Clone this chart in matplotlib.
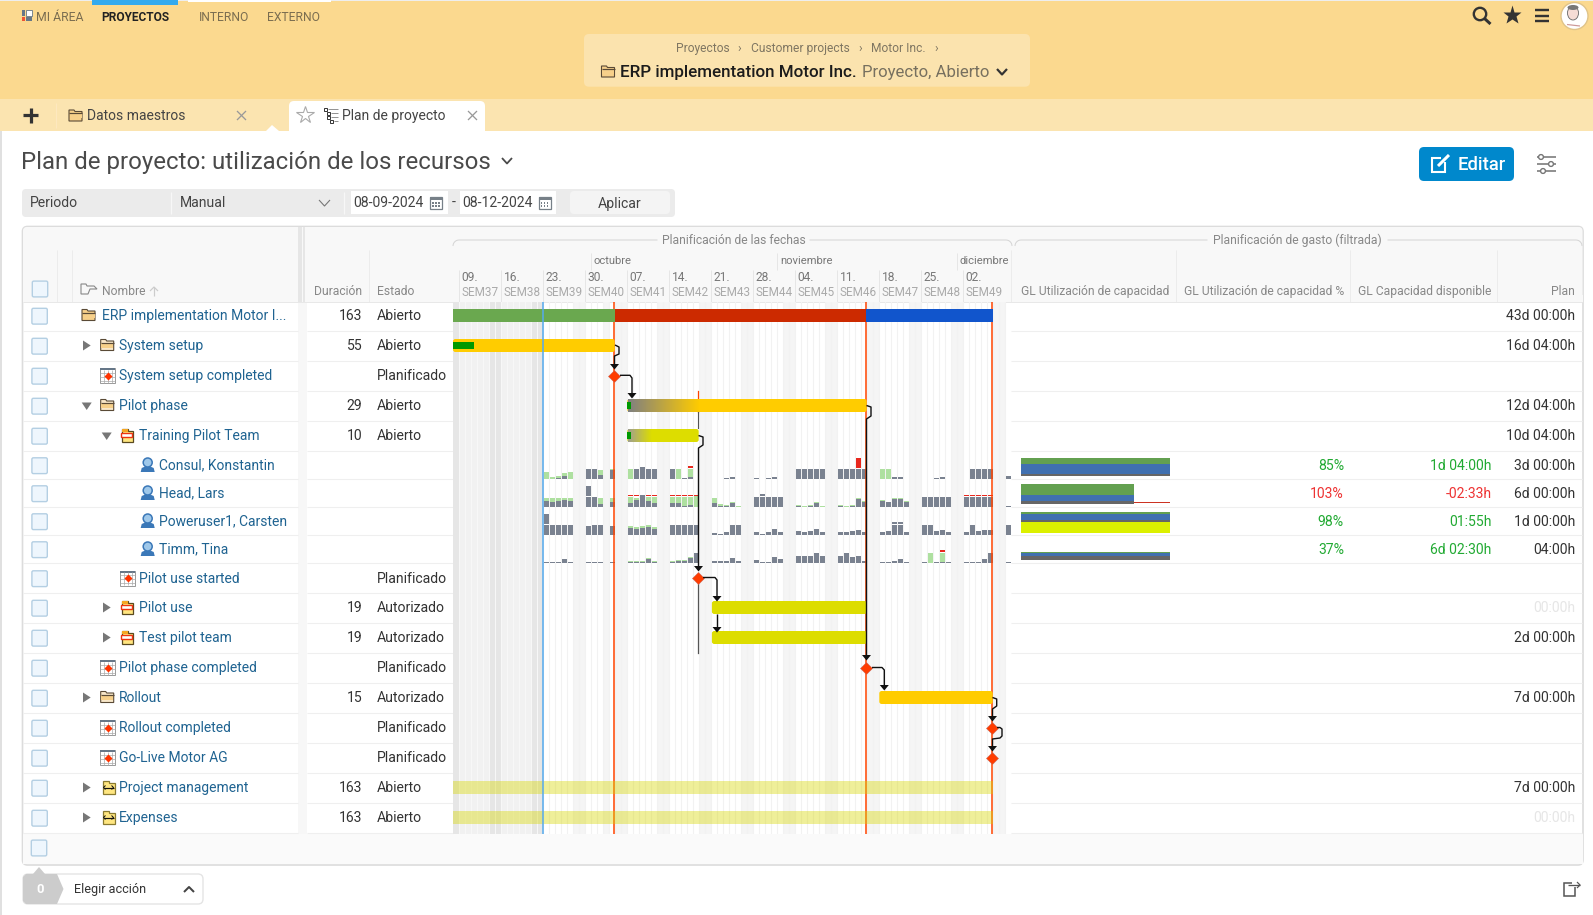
import numpy as np
import matplotlib
matplotlib.use("Agg")
import matplotlib.pyplot as plt
from matplotlib.patches import Rectangle, FancyBboxPatch, Circle, Polygon, Ellipse
from matplotlib.colors import LinearSegmentedColormap

plt.rcParams['font.family'] = ['Roboto', 'DejaVu Sans']

W, H = 1593, 915

# ---------- table data ----------
row_names = ["ERP implementation Motor I...", "System setup", "System setup completed", "Pilot phase",
             "Training Pilot Team", "Consul, Konstantin", "Head, Lars", "Poweruser1, Carsten", "Timm, Tina",
             "Pilot use started", "Pilot use", "Test pilot team", "Pilot phase completed", "Rollout",
             "Rollout completed", "Go-Live Motor AG", "Project management", "Expenses"]
row_kinds = ["root", "folder", "mile", "folder", "task", "person", "person", "person", "person",
             "mile2", "task", "task", "mile", "folder", "mile", "mile", "cost", "cost"]
row_arrows = [None, "r", None, "d", "d", None, None, None, None, None, "r", "r", None, "r", None, None, "r", "r"]
durations = ["163", "55", "", "29", "10", "", "", "", "", "", "19", "19", "", "15", "", "", "163", "163"]
states = ["Abierto", "Abierto", "Planificado", "Abierto", "Abierto", "", "", "", "", "Planificado", "Autorizado",
          "Autorizado", "Planificado", "Autorizado", "Planificado", "Planificado", "Abierto", "Abierto"]
plans = ["43d 00:00h", "16d 04:00h", "", "12d 04:00h", "10d 04:00h", "3d 00:00h", "6d 00:00h", "1d 00:00h", "04:00h",
         "", "00:00h", "2d 00:00h", "", "7d 00:00h", "", "", "7d 00:00h", "00:00h"]
faint_plans = [10, 17]
pct_rows = [5, 6, 7, 8]
pct_values = ["85%", "103%", "98%", "37%"]
pct_ok = [True, False, True, True]
free_values = ["1d 04:00h", "-02:33h", "01:55h", "6d 02:30h"]

week_dates = ["09.", "16.", "23.", "30.", "07.", "14.", "21.", "28.", "04.", "11.", "18.", "25.", "02."]
week_names = ["SEM37", "SEM38", "SEM39", "SEM40", "SEM41", "SEM42", "SEM43", "SEM44", "SEM45", "SEM46", "SEM47",
              "SEM48", "SEM49"]
months = ["octubre", "noviembre", "diciembre"]
month_days = [22.0, 53.0, 83.0]

# ---------- gantt data (days after 9 Sep 2024) ----------
today_day = 14
milestone_days = [25.83, 67.83, 88.83]
status_start = [-1.05, 25.9, 67.83]
status_end = [25.9, 67.83, 88.9]
status_colors = ["#6aa84f", "#cc2a00", "#1155cc"]
holiday_days = [24]
bar_rows = [1, 3, 4, 10, 11, 13]
bar_start = [-1.05, 28.0, 28.0, 42.1, 42.1, 70.0]
bar_end = [25.9, 67.9, 39.9, 67.9, 67.9, 88.9]
bar_colors = ["#ffcc00", "#ffcc00", "#dddd00", "#dddd00", "#dddd00", "#ffcc00"]
grad_from = ["#808080", "#a0a090"]
grad_to_day = [40.0, 32.0]
progress_rows = [1, 3, 4]
progress_end = [3.5, 0.55, 0.55]
band_rows = [16, 17]
band_start = [-1.05, -1.05]
band_end = [88.9, 88.9]
ms_rows = [2, 9, 12, 14, 15]
ms_days = [25.83, 39.83, 67.83, 88.83, 88.83]

# ---------- resource load in hours, weekdays from Monday 23 Sep ----------
consul_grey = [0, 0, .8, 2.4, 0, 8, 8, 3.2, 0, 7.2, 0, 8, 8, 8, 8, 8, 0, .8, 1.6, 0, 0, 0, .8, 1.6, 0, .8, 0, .8, 1.6, 0,
               8, 8, 8, 8, 8, 8, 8, 8, 8, 8, 0, 0, 1.6, 1.6, 0, 0, 0, .8, 1.6, 0, 0, 8, 8, 8, 8, 2.4]
consul_green = [5.3, 1.6, 2.7, 4.5, 5.6, 8, 8, 7.2, 0, 8, 8, 8, 8, 8, 8, 8, 8, .8, 8, 0, 0, 0, .8, 1.6, 0, .8, 0, .8, 1.6, 0,
                8, 8, 8, 8, 8, 8, 8, 8, 8, 8, 8, 8, 1.6, 1.6, 0, 0, 0, .8, 1.6, 0, 0, 8, 8, 8, 8, 2.4]
head_grey = [4.8, 4, 4.8, 5.6, 4.8, 8, 8, 2.4, 0, 4, 3.2, 5.6, 8, 4.8, 3.2, 3.2, 3.2, .8, 1.6, 0, 3.2, .8, .8, 3.2, 0,
             8, 8, 8, 8, 8, .8, 0, .8, 3.2, 0, .8, 0, .8, 6.4, 4, 4.8, 4, 6.4, 6.4, 4, 8, 8, 8, 8, 8, 8, 8, 8, 8, 8, .8]
head_green = [7.2, 7.2, 7.2, 7.2, 7.2, 8, 8, 7.2, 0, 7.2, 8, 7.2, 8, 8, 8, 8, 8, 8, 8, 8.8, 7.2, 2.4, 1.6, 4, .8,
              8, 8, 8, 8, 8, 1.6, .8, 1.6, 4, .8, 1.6, .8, 1.6, 7.2, 4.8, 5.6, 4, 7.2, 7.2, 4.8, 8, 8, 8, 8, 8, 8, 8, 8, 8, 8, .8]
power_grey = [8, 8, 8, 8, 8, 7.2, 8, 8, 0, 7.2, 5.6, 4.8, 5.6, 6.4, 4.8, 8, 8, 8, 8, 8, 1.6, .8, 2.4, 8, 8,
              2.4, .8, 2.4, 4.8, 2.4, 3.2, 2.4, 3.2, 4.8, 2.4, 2.4, 2.4, 3.2, 4, 2.4, 2.4, 3.2, 8, 8, 2.4,
              8, 8, 3.2, 4, 2.4, 2.4, 8, 3.2, 4, 4, 8]
power_green = [8, 8, 8, 8, 8, 7.2, 8, 8, 0, 7.2, 7.2, 6.4, 7.2, 8, 6.4, 8, 8, 8, 8, 8, 1.6, .8, 2.4, 8, 8,
               2.4, .8, 2.4, 4.8, 2.4, 3.2, 2.4, 3.2, 4.8, 2.4, 2.4, 2.4, 3.2, 4, 2.4, 2.4, 3.2, 8, 8, 2.4,
               8, 8, 3.2, 4, 2.4, 2.4, 8, 3.2, 4, 4, 8]
timm_grey = [.8, .8, .8, 3.2, .8, .8, .8, .8, 0, .8, .8, .8, .8, 3.2, .8, .8, 1.6, 1.6, 4, 8, 1.6, 1.6, 1.6, 4, 1.6,
             2.4, .8, .8, 4.8, 3.2, 5.6, 5.6, 5.6, 8, 5.6, 5.6, 8, 4.8, 5.6, 1.6, .8, .8, 1.6, 3.2, .8,
             .8, 0, .8, .8, .8, .8, .8, .8, 3.2, 8, .8]
timm_green = [.8, .8, .8, 3.2, .8, .8, .8, .8, 0, .8, 1.6, 1.6, 1.6, 4, 1.6, 1.6, 2.4, 2.4, 4.8, 8, 1.6, 1.6, 1.6, 4, 1.6,
              2.4, .8, .8, 4.8, 3.2, 5.6, 5.6, 5.6, 8, 5.6, 5.6, 8, 4.8, 5.6, 1.6, .8, .8, 1.6, 3.2, .8,
              .8, 8, .8, 8, .8, .8, .8, .8, 3.2, 8, .8]
# (weekday index, low, high) hours
consul_over = [(18, 8.8, 10.4), (38, 8.8, 16.8)]
consul_extra = [(12, 8, 9.6)]
head_over = [(i, 8.8, 9.6) for i in [10, 11, 13, 14, 15, 16, 17, 18, 19, 50, 51, 52, 53, 54]]
head_extra = [(5, 8.8, 16.8), (12, 8.4, 9.6), (26, 8.8, 10.4)]
power_extra = [(0, 8.8, 16.8), (42, 8.8, 10.4), (43, 8.8, 10.4)]
timm_over = [(48, 8.8, 10.4)]

load_green = [consul_green, head_green, power_green, timm_green]
load_grey = [consul_grey, head_grey, power_grey, timm_grey]
load_over = [consul_over, head_over, [], timm_over]
load_extra = [consul_extra, head_extra, power_extra, []]

# ---------- capacity stacks ----------
cap_green = [6, 11, 2, 1]
cap_blue = [10, 6, 6, 2.7]
cap_grey = [2, 2.5, 2, 4.3]
cap_lime = [0, 0, 10.5, 0]
cap_width = [1.0, 0.76, 1.0, 1.0]

# ---------- layout ----------
row_y = [315.5, 345.5, 375.5, 405.5, 435.5, 465, 493, 521, 549, 578, 607.5, 637.5, 667.5, 697.5, 727.5, 757.5, 787.5, 817.5]
row_line = [331.3, 361.3, 391.3, 421.3, 451.3, 479.3, 507.3, 535.3, 563.3, 593.3, 623.3, 653.3, 683.3, 713.3, 743.3, 773.3, 803.3, 833.3]
baselines = [479, 507, 535, 563]
X0, X1, Y0, Y1 = 453, 1011, 302, 834


def px2d(x):
    return (x - 459.3) / 6.0


fig = plt.figure(figsize=(W / 100, H / 100), dpi=100, facecolor="white")
ui = fig.add_axes([0, 0, 1, 1], zorder=0)
ui.set_xlim(0, W); ui.set_ylim(H, 0); ui.axis("off"); ui.set_autoscale_on(False)
gantt = fig.add_axes([X0 / W, 1 - Y1 / H, (X1 - X0) / W, (Y1 - Y0) / H], zorder=1)
gantt.set_xlim(px2d(X0), px2d(X1)); gantt.set_ylim(Y1, Y0); gantt.axis("off"); gantt.set_autoscale_on(False)
capx = fig.add_axes([1021 / W, 1 - 570 / H, 149 / W, (570 - 450) / H], zorder=1)
capx.set_xlim(0, 1); capx.set_ylim(570, 450); capx.axis("off"); capx.set_autoscale_on(False)
top = fig.add_axes([0, 0, 1, 1], zorder=2)
top.set_xlim(0, W); top.set_ylim(H, 0); top.axis("off"); top.patch.set_alpha(0); top.set_autoscale_on(False)


def T(x, y, s, size=14, color="#333333", ha="left", va="baseline", weight="normal", a=ui, z=3, **k):
    return a.text(x, y, s, fontsize=size * 0.72, color=color, ha=ha, va=va, fontweight=weight, zorder=z, **k)


def R(x0, y0, x1, y1, fc, ec="none", lw=0, z=1, a=ui):
    a.add_patch(Rectangle((x0, y0), x1 - x0, y1 - y0, fc=fc, ec=ec, lw=lw, zorder=z))


def RR(x0, y0, x1, y1, fc, ec="none", lw=0, r=4, z=1, a=ui):
    a.add_patch(FancyBboxPatch((x0, y0), x1 - x0, y1 - y0, boxstyle=f"round,pad=0,rounding_size={r}",
                               fc=fc, ec=ec, lw=lw, zorder=z))


def L(xs, ys, c="#000000", lw=1, z=2, a=ui):
    a.plot(xs, ys, color=c, lw=lw * 0.72, zorder=z, solid_capstyle="butt")


# ---------- header ----------
R(0, 0, W, 100, "#fbd98f")
R(0, 99, W, 131, "#fbe4b0")
R(0, 0, W, 1.2, "#eeeeee", z=2)
R(92, 0, 178, 5, "#33aaee", z=3)
R(188, 0, 331, 1.5, "white", z=3)
R(22, 10, 25, 16, "#667788", z=3); R(22, 17, 25, 21, "#ee5533", z=3); R(26, 10, 32, 16, "#ffffff", ec="#667788", lw=.6, z=3); R(26, 17, 32, 21, "#667788", z=3)
T(36, 21, "MI ÁREA", 12.2, "#7a6d50")
T(101.5, 21, "PROYECTOS", 11.9, "#222222", weight="bold")
T(199, 21, "INTERNO", 12.1, "#7a6d50")
T(267, 21, "EXTERNO", 12.1, "#7a6d50")
# search / star / menu / avatar
ui.add_patch(Circle((1480, 14), 6.2, fc="none", ec="#333333", lw=1.7, zorder=3))
L([1484.5, 1490.5], [18.5, 24], "#333333", 3, 3)
ui.plot([1511.5], [15], marker="*", ms=14, color="#333333", mec="none", zorder=3)
for yy in (10, 15.5, 21):
    L([1534.5, 1549], [yy, yy], "#333333", 2.4, 3)
ui.add_patch(Circle((1574.5, 16), 13.5, fc="white", ec="#e0c48a", lw=1, zorder=3))
ui.add_patch(Ellipse((1573, 13), 11, 14, fc="#f5dcd5", ec="#666666", lw=.6, zorder=4))
ui.add_patch(Ellipse((1573, 7.5), 11, 5, fc="#777777", ec="none", zorder=4))
L([1567, 1580], [24.5, 26], "#cc9999", 1.2, 4)

# breadcrumb
RR(584, 34, 1030, 86.7, "#fbe3ae", r=5, z=2)
T(675.7, 52, "Proyectos", 12, "#7f7662", z=3)
T(739.7, 52, "›", 12, "#7f7662", ha="center", z=3)
T(750.7, 52, "Customer projects", 12, "#7f7662", z=3)
T(860, 52, "›", 12, "#7f7662", ha="center", z=3)
T(871.3, 52, "Motor Inc.", 12, "#7f7662", z=3)
T(936, 52, "›", 12, "#7f7662", ha="center", z=3)
T(620, 77, "ERP implementation Motor Inc.", 17, "#1c1c1c", weight="medium", z=3)
T(862.3, 77, "Proyecto, Abierto", 16.8, "#77705f", z=3)
L([997, 1002, 1007], [69, 74.5, 69], "#333333", 2.2, 3)


def folder(x, y, top_c="#f7d08a", low_c="#f7d08a", ec="#5a4a36"):
    ui.add_patch(Polygon([(x - 7, y - 6), (x - 2, y - 6), (x - 1, y - 4.5), (x + 6, y - 4.5), (x + 6, y + 5), (x - 7, y + 5)],
                         closed=True, fc=low_c, ec=ec, lw=.8, zorder=3))
    R(x - 6.5, y - 2.5, x + 5.5, y + 2, top_c, z=4)
    L([x - 7, x + 6], [y - 3, y - 3], ec, 1.2, 5)


folder(608.5, 72)

# tabs
L([23, 38], [115, 115], "#333333", 3.2, 3)
L([30.5, 30.5], [107.5, 122.5], "#333333", 3.2, 3)
L([55.5, 55.5], [103, 128], "#fde8bf", 1, 3)
folder(76, 116)
T(87, 120, "Datos maestros", 13.9, "#444444")
L([237, 246], [111, 120], "#999999", 1.3, 3); L([237, 246], [120, 111], "#999999", 1.3, 3)
RR(289, 101, 485, 140, "white", r=5, z=2)
R(280, 131, 495, 141, "white", z=2)
ui.add_patch(Polygon([(266, 131), (272, 125), (279, 131)], closed=True, fc="white", ec="none", zorder=3))
ui.plot([304.5], [115], marker="*", ms=13, mfc="white", mec="#aaaaaa", mew=.8, zorder=3)
for yy, xx in [(109, 325), (113, 328), (117, 328), (121, 331)]:
    R(xx - 1.5, yy - 1.5, xx + 2, yy + 2, "white", ec="#333333", lw=.7, z=3)
    L([xx + 3, 338], [yy, yy], "#888888", .9, 3)
T(342.3, 120, "Plan de proyecto", 13.9, "#444444", z=3)
L([468, 477], [111, 120], "#999999", 1.3, 3); L([468, 477], [120, 111], "#999999", 1.3, 3)
L([0.8, 0.8], [131, H], "#e0e0e0", 2, 1)

# page title
T(21, 169.5, "Plan de proyecto: utilización de los recursos", 24, "#4a4a4a")
L([502, 507, 512], [158, 163.5, 158], "#4a4a4a", 1.8)

# toolbar
RR(22, 189, 675, 217, "#ebebeb", r=4)
T(30, 207, "Periodo", 14, "#444444", z=3)
L([170.5, 170.5], [192, 214], "#f7f7f7", 1.2, 3)
T(180, 207, "Manual", 14, "#444444", z=3)
L([319, 324.5, 330], [200, 206, 200], "#777777", 1.1, 3)
L([344, 344], [192, 214], "#f7f7f7", 1.2, 3)
R(351, 191, 447.7, 214, "white", z=2)
R(460, 191, 556, 214, "white", z=2)
T(353.5, 207, "08-09-2024", 14, "#444444", z=3)
T(454, 207, "-", 14, "#444444", ha="center", z=3)
T(462.5, 207, "08-12-2024", 14, "#444444", z=3)
for xc in (436, 544.5):
    R(xc - 6, 197, xc + 6, 208.5, "#ffffff", ec="#778088", lw=.9, z=3)
    R(xc - 6, 197, xc + 6, 200, "#778088", z=3)
    for dx in (-3, 0, 3):
        for dy in (203, 206):
            R(xc + dx - .6, dy - .6, xc + dx + .6, dy + .6, "#778088", z=4)
RR(570, 191, 670, 214, "#f4f4f4", r=4, z=2)
T(620, 208, "Aplicar", 14, "#444444", ha="center", z=3)

# edit button
RR(1419, 147, 1514, 181, "#0088cc", r=5, z=2)
R(1432, 158, 1445, 172, "none", ec="white", lw=1.5, z=3)
R(1441, 153, 1449, 162, "#0088cc", z=3)
L([1438, 1449], [166, 155], "white", 3, 4)
T(1458, 170.5, "Editar", 18.4, "white", weight="medium", z=3)
for yy, xc in [(157, 1541), (164, 1551), (171, 1543)]:
    L([1537, 1556], [yy, yy], "#777777", 1.6, 3)
    ui.add_patch(Circle((xc, yy), 2.4, fc="white", ec="#777777", lw=1, zorder=4))

# ---------- table frame ----------
RR(22.5, 226.5, 1583, 865, "white", ec="#dcdcdc", lw=1.2, r=5, z=1)
RR(23, 227, 1582.5, 302, "#f8f8f8", r=4, z=1.1)
R(23, 295, 1582.5, 302, "#f8f8f8", z=1.1)
R(23, 834, 1582.5, 864, "#fafafa", z=1.1)
R(298.3, 302, 306.5, 834, "#f7f7f7", z=1.2)
R(298.3, 227, 301.5, 302, "#e6e6e6", z=1.2)
R(302.5, 227, 304.5, 302, "#e6e6e6", z=1.2)
for xv in (56.7, 71.7, 369.3, 1011, 1176, 1350, 1497):
    L([xv, xv], [250, 302], "#ececec", 1, 2)
L([23, 1582], [302, 302], "#e8e8e8", 1, 2)
for yl in row_line:
    L([23, 298], [yl, yl], "#efefef", 1.1, 2)
    L([306.5, 453], [yl, yl], "#efefef", 1.1, 2)
    L([1011, 1582], [yl, yl], "#efefef", 1.1, 2)


def checkbox(x, y):
    RR(x - 7.7, y - 7.9, x + 7.7, y + 7.9, "#eef6fd", ec="#b4cfe3", lw=1, r=1.5, z=3)


checkbox(40, 289)
checkbox(39, 848)
# Nombre header
ui.add_patch(Polygon([(81, 294), (81, 284), (86, 284), (87, 286), (94, 286), (97, 289), (90, 289), (88, 294)], closed=True,
                     fc="none", ec="#888888", lw=.8, zorder=3))
T(102.3, 295, "Nombre", 12.1, "#888888", z=3)
L([154, 154], [287, 296], "#cccccc", 1.2, 3); L([150, 154, 158], [291, 287, 291], "#cccccc", 1.2, 3)
T(362, 295, "Duración", 12.1, "#888888", ha="right", z=3)
T(377, 295, "Estado", 12.1, "#888888", z=3)
T(1021, 295, "GL Utilización de capacidad", 12.1, "#888888", z=3)
T(1184, 295, "GL Utilización de capacidad %", 12.1, "#888888", z=3)
T(1358.5, 295, "GL Capacidad disponible", 12.1, "#888888", z=3)
T(1575, 295, "Plan", 12.1, "#888888", ha="right", z=3)
# group headers
for a0, a1, txt, xc, hw in [(453, 1012, "Planificación de las fechas", 733.5, 76), (1015, 1582, "Planificación de gasto (filtrada)", 1297.5, 90)]:
    t = np.linspace(0, np.pi / 2, 8)
    L(list(a0 + 6 - 6 * np.cos(t)) + [xc - hw], list(246 - 6 * np.sin(t)) + [240], "#d5d5d5", 1, 2)
    L([xc + hw] + list(a1 - 6 + 6 * np.sin(t)), [240] + list(240 + 6 - 6 * np.cos(t)), "#d5d5d5", 1, 2)
    T(xc, 244.3, txt, 12.1, "#888888", ha="center", z=3)
# weeks
for i, (d, n) in enumerate(zip(week_dates, week_names)):
    x = 459.3 + i * 42
    L([x, x], [270, 302], "#e6e6e6", 1, 2)
    T(x + 2.5, 281, d, 12, "#777777", z=3)
    T(x + 2.5, 295.5, n, 11.7, "#aaaaaa", z=3)
for m, d in zip(months, month_days):
    x = 459.3 + d * 6
    L([x, x], [253, 270], "#e6e6e6", 1, 2)
    T(x + 2.5, 264, m, 11.3, "#777777", z=3)

# ---------- row content ----------
name_x = {"root": 101.7, "folder": 119, "mile": 119, "task": 139.3, "person": 159.3, "mile2": 139.3, "cost": 119}
icon_x = {"root": 89, "folder": 107.7, "mile": 108, "task": 127.3, "person": 147.7, "mile2": 128, "cost": 108.5}
for i, y in enumerate(row_y):
    checkbox(39.6, y + .7)
    k = row_kinds[i]
    T(name_x[k], y + 4.6, row_names[i], 13.85, "#1f6391", z=3)
    ix = icon_x[k]
    if k == "root":
        folder(ix, y)
    elif k == "folder":
        folder(ix, y, "#f7d08a", "#f9e8ca")
    elif k == "task":
        ui.add_patch(Polygon([(ix - 5, y - 7), (ix + 1, y - 7), (ix + 1, y - 4.5), (ix + 6, y - 4.5), (ix + 6, y + 6), (ix - 5, y + 6)],
                             closed=True, fc="#ffe680", ec="#5a4a20", lw=.9, zorder=3))
        R(ix - 5, y - 6.5, ix + 1, y - 3.5, "#f5a623", z=4)
        R(ix - 6, y - 2.5, ix + 5, y + 1.5, "white", ec="#ee3311", lw=1, z=5)
    elif k == "cost":
        ui.add_patch(Polygon([(ix - 6, y - 7), (ix, y - 7), (ix, y - 4.5), (ix + 6, y - 4.5), (ix + 6, y + 6), (ix - 6, y + 6)],
                             closed=True, fc="#ffe680", ec="#8a7a30", lw=.9, zorder=3))
        L([ix - 5, ix + 5], [y, y], "#111111", 1.2, 5)
        L([ix - 3, ix - 5, ix - 3], [y - 2, y, y + 2], "#111111", 1, 5)
        L([ix + 3, ix + 5, ix + 3], [y - 2, y, y + 2], "#111111", 1, 5)
    elif k in ("mile", "mile2"):
        R(ix - 8, y - 7.5, ix + 7, y + 7.5, "white", ec="#999999", lw=.7, z=3)
        R(ix - 8, y - 7.5, ix + 7, y - 5.5, "#667788", z=4)
        for dd in (-4, 0, 4):
            L([ix + dd, ix + dd], [y - 6, y + 7], "#aaaaaa", .7, 4)
            L([ix - 8, ix + 7], [y + dd + 1, y + dd + 1], "#aaaaaa", .7, 4)
        ui.plot([ix - .5], [y], marker="D", ms=4.2, color="#ff3300", mec="none", zorder=5)
    elif k == "person":
        ui.add_patch(Ellipse((ix, y - 2.5), 9, 9, fc="#9fc8ea", ec="#3b78b8", lw=1.1, zorder=4))
        ui.add_patch(Polygon([(ix - 7, y + 7), (ix - 6, y + 3), (ix - 2.5, y + 1.5), (ix + 2.5, y + 1.5), (ix + 6, y + 3), (ix + 7, y + 7)],
                             closed=True, fc="#3b78b8", ec="none", zorder=3))
    ar = row_arrows[i]
    ax_ = {"folder": 86.7, "task": 106.7, "cost": 86.7}.get(k)
    if ar == "r":
        ui.add_patch(Polygon([(ax_ - 3.7, y - 5), (ax_ + 4, y), (ax_ - 3.7, y + 5)], closed=True, fc="#777777", ec="none", zorder=3))
    elif ar == "d":
        ui.add_patch(Polygon([(ax_ - 5, y - 3), (ax_ + 5, y - 3), (ax_, y + 4.5)], closed=True, fc="#777777", ec="none", zorder=3))
    T(362.3, y + 5, durations[i], 14, "#333333", ha="right", z=3)
    T(377, y + 5, states[i], 14, "#333333", z=3)
    T(1575.5, y + 5, plans[i], 14, "#e6e6e6" if i in faint_plans else "#333333", ha="right", z=3)
for r, p, ok, f in zip(pct_rows, pct_values, pct_ok, free_values):
    col = "#22aa33" if ok else "#ee3333"
    T(1344, row_y[r] + 5, p, 14, col, ha="right", z=3)
    T(1491.5, row_y[r] + 5, f, 14, col, ha="right", z=3)

# ---------- gantt calendar ----------
gantt.add_patch(Rectangle((px2d(X0), Y0), 1.05 + today_day, Y1 - Y0, fc="#f1f1f1", ec="none", zorder=0))
for w in range(0, 14):
    mon = 7 * w
    c = "#e6e6e6" if mon <= today_day else "#f5f5f5"
    gantt.axvspan(mon - 2, mon, color=c, lw=0, zorder=.5)
for d in holiday_days:
    gantt.axvspan(d, d + 1, color="#f5f5f5", lw=0, zorder=.5)
for d in range(0, 92):
    gantt.axvline(d, color="#f7f7f7" if d < today_day else "#f2f2f2", lw=.8, zorder=.6)
gantt.axvline(today_day, color="#55aaee", lw=1.1, zorder=3)

# red lines and task lines, below the bars
for d in milestone_days:
    gantt.axvline(d, color="#ff4400", lw=1.1, zorder=1.8)
gantt.plot([39.83, 39.83], [391, 412], color="#ff4400", lw=.9, zorder=1.8)
gantt.plot([39.83, 39.83], [412, 428], color="#555555", lw=.8, zorder=1.9)
gantt.plot([39.83, 39.83], [578, 653], color="#555555", lw=.9, zorder=1.9)

# status bar
for s, e, c in zip(status_start, status_end, status_colors):
    gantt.barh(row_y[0], e - s, left=s, height=13, color=c, lw=0, zorder=2)
# plan bars
for r, s, e, c in zip(bar_rows, bar_start, bar_end, bar_colors):
    gantt.add_patch(FancyBboxPatch((s, row_y[r] - 6.5), e - s, 13, boxstyle="round,pad=0,rounding_size=0.4",
                                   mutation_aspect=6.0, fc=c, ec="none", zorder=2))
gr = np.linspace(0, 1, 64).reshape(1, -1)
for r, c0, c1, e in zip([3, 4], grad_from, ["#ffcc00", "#dddd00"], grad_to_day):
    cm = LinearSegmentedColormap.from_list("g", [c0, c1])
    gantt.imshow(gr, extent=(bar_start[bar_rows.index(r)] + .1, e, row_y[r] + 6.5, row_y[r] - 6.5), cmap=cm, aspect="auto", zorder=2.1)
gantt.set_xlim(px2d(X0), px2d(X1)); gantt.set_ylim(Y1, Y0)
for r, e in zip(progress_rows, progress_end):
    s = bar_start[bar_rows.index(r)]
    gantt.barh(row_y[r], e, left=s, height=6.5, color="#009900", lw=0, zorder=2.3)
for r, s, e in zip(band_rows, band_start, band_end):
    gantt.barh(row_y[r], e - s, left=s, height=13, color="#d8d800", alpha=.4, lw=0, zorder=2)

# resource load
week_off = [0, 1, 2, 3, 4]
wk_days = [14 + 7 * w + o for w in range(11) for o in week_off] + [91]
PX = 1.25
BW = 0.85
for b, gr_, ge_, ov, ex in zip(baselines, load_grey, load_green, load_over, load_extra):
    xs = np.array(wk_days, dtype=float) + 0.06
    gantt.bar(xs, -np.array(ge_) * PX, bottom=b, width=BW, align="edge", color="#aee0a0", lw=0, zorder=1.5)
    gantt.bar(xs, -np.array(gr_) * PX, bottom=b, width=BW, align="edge", color="#7a8290", lw=0, zorder=1.6)
    for idx, lo, hi in ov:
        gantt.bar(wk_days[idx] + 0.06, -(hi - lo) * PX, bottom=b - lo * PX, width=BW, align="edge", color="#e8281e", lw=0, zorder=1.7)
    for idx, lo, hi in ex:
        gantt.bar(wk_days[idx] + 0.06, -(hi - lo) * PX, bottom=b - lo * PX, width=BW, align="edge", color="#7a8290", lw=0, zorder=1.7)

# milestones
gantt.plot(ms_days, [row_y[r] for r in ms_rows], ls="none", marker="D", ms=6.3, color="#ff3c00", mec="#cc6655", mew=.4, zorder=5)
gantt.set_xlim(px2d(X0), px2d(X1)); gantt.set_ylim(Y1, Y0)


# ---------- connectors ----------
def conn(xs, ys):
    L(xs, ys, "#111111", 1.4, 4, a=top)
    top.add_patch(Polygon([(xs[-1] - 4.5, ys[-1] - 3), (xs[-1] + 4.5, ys[-1] - 3), (xs[-1], ys[-1] + 2.5)], closed=True,
                          fc="#111111", ec="none", zorder=4))


conn([615, 619, 619, 614.5, 614.5], [345, 347, 354, 356, 367])
conn([620, 630, 632, 632], [375.3, 375.3, 378, 396])
conn([866.5, 871, 871, 866.5, 866.5], [405.5, 407, 416, 419, 658])
conn([698.5, 703, 703, 698.5, 698.5], [435.5, 437, 445, 448, 569])
conn([703, 715, 717, 717], [577.5, 577.5, 580, 599])
conn([717, 717], [614, 630])
conn([872, 882, 884.3, 884.3], [667.5, 667.5, 670, 688])
conn([992.5, 996.7, 996.7, 992.5, 992.5], [697.5, 699, 706, 709, 719])
conn([997, 1000, 1002, 1002, 1000, 992.5, 992.5], [727.5, 727.5, 729, 736, 738, 739, 749])

# ---------- capacity bars ----------
cap_top = [458, 484, 512, 552]
for t0, g, bl, gy, li, w_ in zip(cap_top, cap_green, cap_blue, cap_grey, cap_lime, cap_width):
    capx.barh(t0, w_, height=g, align="edge", color="#63a050", lw=0)
    capx.barh(t0 + g, w_, height=bl, align="edge", color="#4070b0", lw=0)
    capx.barh(t0 + g + bl, w_, height=gy, align="edge", color="#666666", lw=0)
    if li:
        capx.barh(t0 + g + bl + gy, w_, height=li, align="edge", color="#dcf000", lw=0)
capx.barh(502.7, 0.24, left=0.76, height=1.3, color="#cc3322", lw=0)
capx.set_xlim(0, 1); capx.set_ylim(570, 450)

# ---------- bottom bar ----------
ui.add_patch(Polygon([(33, 874), (39, 867), (45, 874)], closed=True, fc="#cccccc", ec="none", zorder=2))
RR(23, 874, 203, 904, "white", ec="#e4e4e4", lw=1, r=5, z=1.5)
ui.add_patch(Polygon([(23, 877), (26, 874), (57, 874), (63.5, 889), (57, 904), (26, 904), (23, 901)], closed=True, fc="#cccccc", ec="none", zorder=2))
T(40, 893, "0", 13, "white", ha="center", weight="bold", z=3)
T(74, 893, "Elegir acción", 12.6, "#333333", z=3)
L([184, 189, 194], [892, 887, 892], "#444444", 2, 3)
R(1564, 883, 1575, 896, "none", ec="#555555", lw=1.1, z=3)
R(1572, 880, 1580, 887, "white", z=3)
L([1568, 1580], [885, 885], "#555555", 1.3, 4)
L([1577, 1580, 1577], [882, 885, 888], "#555555", 1.2, 4)

fig.savefig("out.png", dpi=100, facecolor="white")
